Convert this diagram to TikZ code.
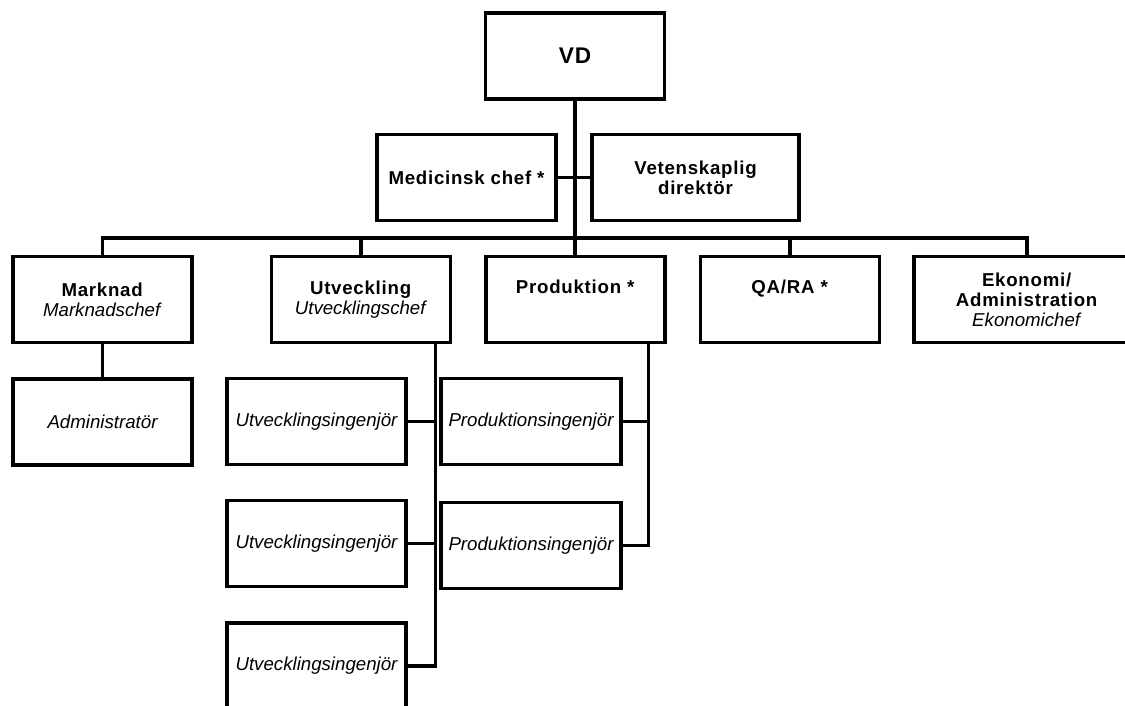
\documentclass[tikz,border=0pt]{standalone}
\usepackage{fontspec}
\setmainfont{Liberation Sans}[BoldFeatures={LetterSpace=4}]

\begin{document}
\begin{tikzpicture}[x=0.75pt,y=-0.75pt,
  box/.style={draw,line width=2.4pt,fill=white,inner sep=0pt,
    minimum width=134.25pt,minimum height=64.5pt,align=center,
    font=\fontsize{14}{15}\selectfont},
  head/.style={box,font=\fontsize{14}{15}\selectfont\bfseries},
  staff/.style={box,font=\fontsize{14}{15}\selectfont\itshape},
  link/.style={line width=2.4pt}]
  \useasboundingbox (0,0) rectangle (1125,706);
  \clip (0,0) rectangle (1125,706);
  \node[head,font=\fontsize{17}{18}\selectfont\bfseries] (vd) at (575,56) {VD};
  \node[head] (med) at (466.5,177.5) {Medicinsk chef *};
  \node[head,minimum width=155.25pt] (vet) at (695.5,177.5) {Vetenskaplig\\direktör};
  \node[box] (mark) at (102.5,299.5) {\textbf{Marknad}\\\textit{Marknadschef}};
  \node[box] (utv) at (361,299.5) {\textbf{Utveckling}\\\textit{Utvecklingschef}};
  \node[box] (prod) at (575.5,299.5) {\textbf{Produktion *}\\\strut};
  \node[box] (qara) at (790,299.5) {\textbf{QA/RA *}\\\strut};
  \node[box,minimum width=169.5pt] (ekon) at (1027,299.5) {\textbf{Ekonomi/}\\\textbf{Administration}\\\textit{Ekonomichef}};
  \node[staff] (admin) at (102.5,422) {Administratör};
  \node[staff] (utv1) at (316.5,421.5) {Utvecklingsingenjör};
  \node[staff] (utv2) at (316.5,543.5) {Utvecklingsingenjör};
  \node[staff] (utv3) at (316.5,666) {Utvecklingsingenjör};
  \node[staff,minimum width=135pt] (prod1) at (531,421.5) {Produktionsingenjör};
  \node[staff,minimum width=135pt] (prod2) at (531,545.5) {Produktionsingenjör};
  \coordinate (bus) at (0,238);
  \coordinate (utvdrop) at ([xshift=-12.75pt]utv.south east);
  \coordinate (proddrop) at ([xshift=-13.5pt]prod.south east);
  \draw[link] (vd.south) -- (vd.south |- prod.north);
  \draw[link] (med.east) -- (vet.west);
  \draw[link] (mark.north) |- (bus -| ekon.north) -- (ekon.north);
  \draw[link] (utv.north) -- (utv.north |- bus);
  \draw[link] (qara.north) -- (qara.north |- bus);
  \draw[link] (mark.south) -- (admin.north);
  \draw[link] (utvdrop) |- (utv3.east);
  \draw[link] (utv1.east) -- (utv1.east -| utvdrop);
  \draw[link] (utv2.east) -- (utv2.east -| utvdrop);
  \draw[link] (proddrop) |- (prod2.east);
  \draw[link] (prod1.east) -- (prod1.east -| proddrop);
\end{tikzpicture}
\end{document}
